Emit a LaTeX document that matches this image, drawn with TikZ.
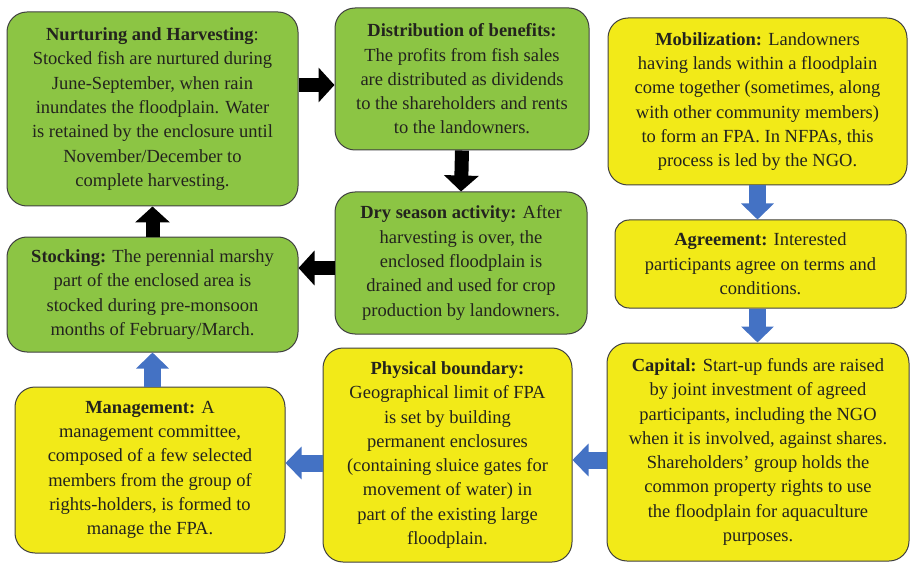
\documentclass[tikz,border=0pt]{standalone}
\usepackage{fontspec}
\setmainfont{Liberation Serif}
\usetikzlibrary{arrows.meta,calc}
\definecolor{boxgreen}{RGB}{140,197,68}
\definecolor{boxyellow}{RGB}{242,234,24}
\definecolor{flowblue}{RGB}{68,114,196}
\definecolor{inkgray}{RGB}{35,35,30}
\tikzset{
   step node/.style={rectangle,rounded corners=20pt,draw=black!75,line width=1pt,align=center,
                     inner sep=0pt,text=inkgray,font=\fontsize{18.5}{24.3}\selectfont},
   green node/.style={step node,fill=boxgreen},
   yellow node/.style={step node,fill=boxyellow},
   black flow/.style={draw=black,line width=14pt,-{Triangle[length=16pt,width=34pt]}},
   blue flow/.style={draw=flowblue,line width=17pt,-{Triangle[length=16pt,width=32pt]}}
}
\begin{document}
\begin{tikzpicture}[x=1pt,y=-1pt]
\useasboundingbox (0,0) rectangle (910,564);
% green cycle
\node[green node,minimum width=291pt,minimum height=194pt] (nurture) at (152.5,109)
  {\textbf{Nurturing and Harvesting}:\\ Stocked fish are nurtured during\\ June-September, when rain\\
   inundates the floodplain. Water\\ is retained by the enclosure until\\ November/December to\\ complete harvesting.};
\node[green node,minimum width=254pt,minimum height=142pt] (benefit) at (462,79)
  {\textbf{Distribution of benefits:}\\ The profits from fish sales\\ are distributed as dividends\\
   to the shareholders and rents\\ to the landowners.};
\node[green node,minimum width=252pt,minimum height=142pt] (dry) at (461,263)
  {\textbf{Dry season activity:} After\\ harvesting is over, the\\ enclosed floodplain is\\
   drained and used for crop\\ production by landowners.};
\node[green node,minimum width=291pt,minimum height=115pt] (stock) at (152.5,294.5)
  {\textbf{Stocking:} The perennial marshy\\ part of the enclosed area is\\ stocked during pre-monsoon\\
   months of February/March.};
% yellow set-up steps
\node[yellow node,minimum width=299pt,minimum height=167pt] (mobil) at (757.5,101.5)
  {\textbf{Mobilization:} Landowners\\ having lands within a floodplain\\ come together (sometimes, along\\
   with other community members)\\ to form an FPA. In NFPAs, this\\ process is led by the NGO.};
\node[yellow node,minimum width=291pt,minimum height=88pt,rounded corners=14pt] (agree) at (760.5,264)
  {\textbf{Agreement:} Interested\\ participants agree on terms and\\ conditions.};
\node[yellow node,minimum width=302pt,minimum height=218pt] (capital) at (758,452)
  {\textbf{Capital:} Start-up funds are raised\\ by joint investment of agreed\\ participants, including the NGO\\
   when it is involved, against shares.\\ Shareholders' group holds the\\ common property rights to use\\
   the floodplain for aquaculture\\ purposes.};
\node[yellow node,minimum width=249pt,minimum height=214pt] (bound) at (447.5,455)
  {\textbf{Physical boundary:}\\ Geographical limit of FPA\\ is set by building\\ permanent enclosures\\
   (containing sluice gates for\\ movement of water) in\\ part of the existing large\\ floodplain.};
\node[yellow node,minimum width=270pt,minimum height=166pt] (manage) at (150,470)
  {\textbf{Management:} A\\ management committee,\\ composed of a few selected\\ members from the group of\\
   rights-holders, is formed to\\ manage the FPA.};
%
\path
  (nurture.east |- 0,85) edge[black flow] (benefit.west |- 0,85)
  (benefit.south) edge[black flow] (dry.north)
  (dry.west |- 0,268) edge[black flow] (stock.east |- 0,268)
  (stock.north) edge[black flow] (nurture.south)
  ;
\path
  (mobil.south) edge[blue flow] (agree.north -| mobil.south)
  (agree.south -| mobil.south) edge[blue flow] (capital.north -| mobil.south)
  (capital.west |- 0,460) edge[blue flow] (bound.east |- 0,460)
  (bound.west |- 0,463) edge[blue flow] (manage.east |- 0,463)
  (manage.north -| stock.south) edge[blue flow] (stock.south)
  ;
\end{tikzpicture}
\end{document}
